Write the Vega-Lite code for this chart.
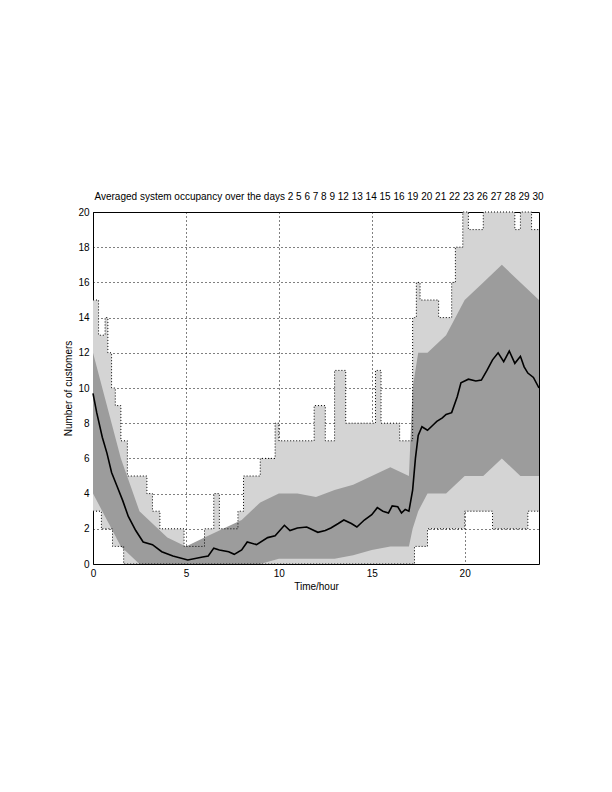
{
  "$schema": "https://vega.github.io/schema/vega-lite/v6.json",
  "autosize": {"type": "none"},
  "width": 446,
  "height": 352,
  "padding": {"left": 93, "top": 212, "right": 73, "bottom": 228},
  "background": "white",
  "config": {
    "view": {"stroke": "black", "strokeWidth": 1},
    "font": "Liberation Sans",
    "axis": {
      "domain": false,
      "ticks": false,
      "grid": true,
      "gridColor": "black",
      "gridDash": [1, 3],
      "gridOpacity": 1,
      "gridWidth": 1,
      "labelFont": "Liberation Sans",
      "labelFontSize": 10,
      "labelColor": "black",
      "labelOverlap": false,
      "labelFlush": false,
      "titleFont": "Liberation Sans",
      "titleFontSize": 10,
      "titleFontWeight": "normal",
      "titleColor": "black"
    }
  },
  "title": {
    "text": "Averaged system occupancy over the days 2 5 6 7 8 9 12 13 14 15 16 19 20 21 22 23 26 27 28 29 30",
    "font": "Liberation Sans",
    "fontSize": 10,
    "fontWeight": "normal",
    "color": "black",
    "anchor": "middle",
    "dx": 3,
    "offset": 5
  },
  "datasets": {
    "envelope": [
      {"hour": 0, "lo": 3, "hi": 15},
      {"hour": 0.3, "lo": 3, "hi": 13},
      {"hour": 0.45, "lo": 2, "hi": 13},
      {"hour": 0.65, "lo": 2, "hi": 14},
      {"hour": 0.8, "lo": 2, "hi": 12},
      {"hour": 1.0, "lo": 2, "hi": 10},
      {"hour": 1.05, "lo": 1, "hi": 10},
      {"hour": 1.2, "lo": 1, "hi": 9},
      {"hour": 1.5, "lo": 1, "hi": 7},
      {"hour": 1.65, "lo": 0, "hi": 7},
      {"hour": 1.85, "lo": 0, "hi": 5},
      {"hour": 2.9, "lo": 0, "hi": 4},
      {"hour": 3.2, "lo": 0, "hi": 3},
      {"hour": 3.6, "lo": 0, "hi": 2},
      {"hour": 4.9, "lo": 0, "hi": 1},
      {"hour": 6.0, "lo": 0, "hi": 2},
      {"hour": 6.5, "lo": 0, "hi": 4},
      {"hour": 6.8, "lo": 0, "hi": 2},
      {"hour": 7.8, "lo": 0, "hi": 3},
      {"hour": 8.1, "lo": 0, "hi": 5},
      {"hour": 9.0, "lo": 0, "hi": 6},
      {"hour": 9.8, "lo": 0, "hi": 8},
      {"hour": 10.0, "lo": 0, "hi": 7},
      {"hour": 11.9, "lo": 0, "hi": 9},
      {"hour": 12.5, "lo": 0, "hi": 7},
      {"hour": 13.0, "lo": 0, "hi": 11},
      {"hour": 13.6, "lo": 0, "hi": 8},
      {"hour": 15.2, "lo": 0, "hi": 11},
      {"hour": 15.5, "lo": 0, "hi": 8},
      {"hour": 16.5, "lo": 0, "hi": 7},
      {"hour": 17.2, "lo": 0, "hi": 14},
      {"hour": 17.3, "lo": 1, "hi": 14},
      {"hour": 17.4, "lo": 1, "hi": 16},
      {"hour": 17.6, "lo": 1, "hi": 15},
      {"hour": 18.0, "lo": 2, "hi": 15},
      {"hour": 18.6, "lo": 2, "hi": 14},
      {"hour": 19.3, "lo": 2, "hi": 16},
      {"hour": 19.5, "lo": 2, "hi": 18},
      {"hour": 19.9, "lo": 2, "hi": 20},
      {"hour": 20.0, "lo": 3, "hi": 20},
      {"hour": 20.2, "lo": 3, "hi": 19},
      {"hour": 21.0, "lo": 3, "hi": 20},
      {"hour": 21.5, "lo": 2, "hi": 20},
      {"hour": 22.7, "lo": 2, "hi": 19},
      {"hour": 23.0, "lo": 2, "hi": 20},
      {"hour": 23.4, "lo": 3, "hi": 20},
      {"hour": 23.6, "lo": 3, "hi": 19},
      {"hour": 24, "lo": 3, "hi": 19}
    ],
    "core": [
      {"hour": 0, "lo": 4, "hi": 12},
      {"hour": 0.5, "lo": 3, "hi": 10},
      {"hour": 1.0, "lo": 2, "hi": 8},
      {"hour": 1.5, "lo": 1, "hi": 6},
      {"hour": 2.0, "lo": 0.5, "hi": 4.5},
      {"hour": 2.5, "lo": 0, "hi": 3},
      {"hour": 3, "lo": 0, "hi": 2.5},
      {"hour": 4, "lo": 0, "hi": 1.5},
      {"hour": 5, "lo": 0, "hi": 1},
      {"hour": 6, "lo": 0, "hi": 1.5},
      {"hour": 7, "lo": 0, "hi": 2},
      {"hour": 8, "lo": 0, "hi": 2.5},
      {"hour": 9, "lo": 0, "hi": 3.5},
      {"hour": 10, "lo": 0.3, "hi": 4},
      {"hour": 11, "lo": 0.3, "hi": 4},
      {"hour": 12, "lo": 0.3, "hi": 3.8},
      {"hour": 13, "lo": 0.3, "hi": 4.2},
      {"hour": 14, "lo": 0.5, "hi": 4.5},
      {"hour": 15, "lo": 0.8, "hi": 5},
      {"hour": 16, "lo": 1, "hi": 5.5},
      {"hour": 17, "lo": 1, "hi": 5},
      {"hour": 17.2, "lo": 2, "hi": 10},
      {"hour": 17.5, "lo": 3, "hi": 12},
      {"hour": 18, "lo": 4, "hi": 12},
      {"hour": 19, "lo": 4, "hi": 13},
      {"hour": 20, "lo": 5, "hi": 15},
      {"hour": 21, "lo": 5, "hi": 16},
      {"hour": 22, "lo": 6, "hi": 17},
      {"hour": 23, "lo": 5, "hi": 16},
      {"hour": 24, "lo": 5, "hi": 15}
    ],
    "mean": [
      {"hour": 0, "customers": 9.7},
      {"hour": 0.2, "customers": 8.6},
      {"hour": 0.5, "customers": 7.2},
      {"hour": 0.75, "customers": 6.3},
      {"hour": 1.0, "customers": 5.2},
      {"hour": 1.3, "customers": 4.4},
      {"hour": 1.6, "customers": 3.6},
      {"hour": 1.9, "customers": 2.7},
      {"hour": 2.3, "customers": 1.9},
      {"hour": 2.7, "customers": 1.25},
      {"hour": 3.2, "customers": 1.1},
      {"hour": 3.7, "customers": 0.7},
      {"hour": 4.3, "customers": 0.45},
      {"hour": 5.1, "customers": 0.23},
      {"hour": 5.9, "customers": 0.4},
      {"hour": 6.2, "customers": 0.45},
      {"hour": 6.5, "customers": 0.9},
      {"hour": 6.8, "customers": 0.8},
      {"hour": 7.3, "customers": 0.7},
      {"hour": 7.6, "customers": 0.55},
      {"hour": 8.0, "customers": 0.8},
      {"hour": 8.3, "customers": 1.25},
      {"hour": 8.8, "customers": 1.1},
      {"hour": 9.4, "customers": 1.5},
      {"hour": 9.8, "customers": 1.6},
      {"hour": 10.3, "customers": 2.2},
      {"hour": 10.6, "customers": 1.9},
      {"hour": 11.0, "customers": 2.05},
      {"hour": 11.5, "customers": 2.1},
      {"hour": 12.1, "customers": 1.8},
      {"hour": 12.5, "customers": 1.9},
      {"hour": 12.8, "customers": 2.05},
      {"hour": 13.2, "customers": 2.3},
      {"hour": 13.5, "customers": 2.5},
      {"hour": 13.9, "customers": 2.3},
      {"hour": 14.2, "customers": 2.1},
      {"hour": 14.6, "customers": 2.5},
      {"hour": 15.0, "customers": 2.8},
      {"hour": 15.3, "customers": 3.2},
      {"hour": 15.6, "customers": 3.0},
      {"hour": 15.9, "customers": 2.9},
      {"hour": 16.1, "customers": 3.3},
      {"hour": 16.4, "customers": 3.25},
      {"hour": 16.6, "customers": 2.9},
      {"hour": 16.8, "customers": 3.1},
      {"hour": 17.0, "customers": 3.0},
      {"hour": 17.2, "customers": 4.2},
      {"hour": 17.35, "customers": 6.0},
      {"hour": 17.5, "customers": 7.3},
      {"hour": 17.7, "customers": 7.8},
      {"hour": 18.0, "customers": 7.6},
      {"hour": 18.3, "customers": 7.9},
      {"hour": 18.5, "customers": 8.1},
      {"hour": 18.8, "customers": 8.3},
      {"hour": 19.0, "customers": 8.5},
      {"hour": 19.3, "customers": 8.6},
      {"hour": 19.6, "customers": 9.5},
      {"hour": 19.8, "customers": 10.3},
      {"hour": 20.0, "customers": 10.4},
      {"hour": 20.2, "customers": 10.5},
      {"hour": 20.6, "customers": 10.4},
      {"hour": 20.9, "customers": 10.45},
      {"hour": 21.2, "customers": 11.0},
      {"hour": 21.5, "customers": 11.6},
      {"hour": 21.8, "customers": 12.0},
      {"hour": 22.1, "customers": 11.5},
      {"hour": 22.4, "customers": 12.1},
      {"hour": 22.7, "customers": 11.4},
      {"hour": 23.0, "customers": 11.8},
      {"hour": 23.2, "customers": 11.2},
      {"hour": 23.4, "customers": 10.85},
      {"hour": 23.7, "customers": 10.6},
      {"hour": 24.0, "customers": 10.0}
    ]
  },
  "layer": [
    {
      "data": {"name": "envelope"},
      "mark": {"type": "area", "interpolate": "step-after", "color": "#d4d4d4"},
      "encoding": {
        "x": {"field": "hour", "type": "quantitative", "scale": {"domain": [0, 24], "nice": false},
              "axis": {"values": [0, 5, 10, 15, 20], "title": "Time/hour", "labelPadding": 4, "titlePadding": 3}},
        "y": {"field": "lo", "type": "quantitative", "scale": {"domain": [0, 20], "nice": false},
              "axis": {"values": [0, 2, 4, 6, 8, 10, 12, 14, 16, 18, 20], "tickCount": 11, "title": "Number of customers", "labelPadding": 4, "titlePadding": 4}},
        "y2": {"field": "hi"}
      }
    },
    {
      "data": {"name": "core"},
      "mark": {"type": "area", "color": "#9c9c9c"},
      "encoding": {
        "x": {"field": "hour", "type": "quantitative", "axis": {"values": [0, 5, 10, 15, 20], "title": "Time/hour"}},
        "y": {"field": "lo", "type": "quantitative", "axis": {"values": [0, 2, 4, 6, 8, 10, 12, 14, 16, 18, 20], "tickCount": 11, "title": "Number of customers"}},
        "y2": {"field": "hi"}
      }
    },
    {
      "data": {"name": "envelope"},
      "mark": {"type": "line", "interpolate": "step-after", "color": "black", "strokeWidth": 1, "strokeDash": [1, 2]},
      "encoding": {
        "x": {"field": "hour", "type": "quantitative", "axis": {"values": [0, 5, 10, 15, 20], "title": "Time/hour"}},
        "y": {"field": "hi", "type": "quantitative", "axis": {"values": [0, 2, 4, 6, 8, 10, 12, 14, 16, 18, 20], "tickCount": 11, "title": "Number of customers"}}
      }
    },
    {
      "data": {"name": "envelope"},
      "mark": {"type": "line", "interpolate": "step-after", "color": "black", "strokeWidth": 1, "strokeDash": [1, 2]},
      "encoding": {
        "x": {"field": "hour", "type": "quantitative", "axis": {"values": [0, 5, 10, 15, 20], "title": "Time/hour"}},
        "y": {"field": "lo", "type": "quantitative", "axis": {"values": [0, 2, 4, 6, 8, 10, 12, 14, 16, 18, 20], "tickCount": 11, "title": "Number of customers"}}
      }
    },
    {
      "data": {"name": "mean"},
      "mark": {"type": "line", "color": "black", "strokeWidth": 1.6},
      "encoding": {
        "x": {"field": "hour", "type": "quantitative", "axis": {"values": [0, 5, 10, 15, 20], "title": "Time/hour"}},
        "y": {"field": "customers", "type": "quantitative", "axis": {"values": [0, 2, 4, 6, 8, 10, 12, 14, 16, 18, 20], "tickCount": 11, "title": "Number of customers"}}
      }
    }
  ]
}
